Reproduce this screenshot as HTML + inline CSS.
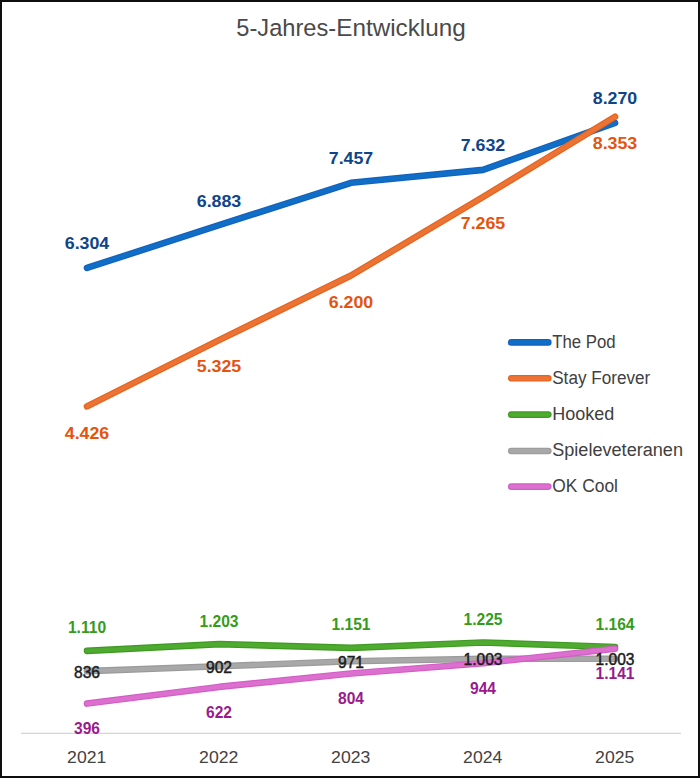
<!DOCTYPE html>
<html><head><meta charset="utf-8"><title>5-Jahres-Entwicklung</title>
<style>
html,body{margin:0;padding:0;background:#fff;}
body{width:700px;height:778px;overflow:hidden;font-family:"Liberation Sans",sans-serif;}
svg{display:block;}
text{font-family:"Liberation Sans",sans-serif;}
.a{font-weight:bold;font-size:17.1px;text-anchor:middle;}
.b{font-weight:bold;font-size:15.6px;text-anchor:middle;}
.c{font-weight:normal;font-size:15.6px;text-anchor:middle;}
.lg{font-size:17.6px;fill:#404040;}
.ax{font-size:17px;fill:#424242;text-anchor:middle;}
</style></head><body>
<svg width="700" height="778" viewBox="0 0 700 778">
<rect x="0" y="0" width="700" height="778" fill="#fff"/>
<line x1="21" y1="733.2" x2="681" y2="733.2" stroke="#C9C9C9" stroke-width="1.1"/>
<polyline points="87.0,267.9 219.0,225.2 351.0,182.8 483.0,169.9 615.0,122.9" fill="none" stroke="#1560BE" stroke-width="6.6" stroke-linecap="round" stroke-linejoin="round"/>
<polyline points="87.0,267.9 219.0,225.2 351.0,182.8 483.0,169.9 615.0,122.9" fill="none" stroke="#0F6FC6" stroke-width="4.3" stroke-linecap="round" stroke-linejoin="round"/>
<polyline points="87.0,406.4 219.0,340.1 351.0,275.5 483.0,197.0 615.0,116.8" fill="none" stroke="#E7621C" stroke-width="6.6" stroke-linecap="round" stroke-linejoin="round"/>
<polyline points="87.0,406.4 219.0,340.1 351.0,275.5 483.0,197.0 615.0,116.8" fill="none" stroke="#EB7334" stroke-width="4.3" stroke-linecap="round" stroke-linejoin="round"/>
<polyline points="87.0,650.9 219.0,644.1 351.0,647.9 483.0,642.5 615.0,647.0" fill="none" stroke="#3F9A22" stroke-width="6.6" stroke-linecap="round" stroke-linejoin="round"/>
<polyline points="87.0,650.9 219.0,644.1 351.0,647.9 483.0,642.5 615.0,647.0" fill="none" stroke="#4FAA30" stroke-width="4.3" stroke-linecap="round" stroke-linejoin="round"/>
<polyline points="87.0,671.1 219.0,666.3 351.0,661.2 483.0,658.8 615.0,658.8" fill="none" stroke="#9A9A9A" stroke-width="6.6" stroke-linecap="round" stroke-linejoin="round"/>
<polyline points="87.0,671.1 219.0,666.3 351.0,661.2 483.0,658.8 615.0,658.8" fill="none" stroke="#A8A8A8" stroke-width="4.3" stroke-linecap="round" stroke-linejoin="round"/>
<polyline points="87.0,703.6 219.0,686.9 351.0,673.5 483.0,663.2 615.0,648.7" fill="none" stroke="#D45CC6" stroke-width="6.6" stroke-linecap="round" stroke-linejoin="round"/>
<polyline points="87.0,703.6 219.0,686.9 351.0,673.5 483.0,663.2 615.0,648.7" fill="none" stroke="#DB70CF" stroke-width="4.3" stroke-linecap="round" stroke-linejoin="round"/>
<text class="a" x="87" y="249.4" fill="#0E4589" textLength="44.5" lengthAdjust="spacingAndGlyphs">6.304</text>
<text class="a" x="219" y="206.7" fill="#0E4589" textLength="44.5" lengthAdjust="spacingAndGlyphs">6.883</text>
<text class="a" x="351" y="164.3" fill="#0E4589" textLength="44.5" lengthAdjust="spacingAndGlyphs">7.457</text>
<text class="a" x="483" y="151.4" fill="#0E4589" textLength="44.5" lengthAdjust="spacingAndGlyphs">7.632</text>
<text class="a" x="615" y="104.4" fill="#0E4589" textLength="44.5" lengthAdjust="spacingAndGlyphs">8.270</text>
<text class="a" x="87" y="438.7" fill="#E5540F" textLength="44.5" lengthAdjust="spacingAndGlyphs">4.426</text>
<text class="a" x="219" y="372.4" fill="#E5540F" textLength="44.5" lengthAdjust="spacingAndGlyphs">5.325</text>
<text class="a" x="351" y="307.8" fill="#E5540F" textLength="44.5" lengthAdjust="spacingAndGlyphs">6.200</text>
<text class="a" x="483" y="229.3" fill="#E5540F" textLength="44.5" lengthAdjust="spacingAndGlyphs">7.265</text>
<text class="a" x="615" y="149.1" fill="#E5540F" textLength="44.5" lengthAdjust="spacingAndGlyphs">8.353</text>
<text class="b" x="87" y="633.4" fill="#359C1A">1.110</text>
<text class="b" x="219" y="626.6" fill="#359C1A">1.203</text>
<text class="b" x="351" y="630.4" fill="#359C1A">1.151</text>
<text class="b" x="483" y="625.0" fill="#359C1A">1.225</text>
<text class="b" x="615" y="629.5" fill="#359C1A">1.164</text>
<text class="c" x="87" y="677.5" fill="#1C1C1C" stroke="#1C1C1C" stroke-width="0.45">836</text>
<text class="c" x="219" y="672.7" fill="#1C1C1C" stroke="#1C1C1C" stroke-width="0.45">902</text>
<text class="c" x="351" y="667.6" fill="#1C1C1C" stroke="#1C1C1C" stroke-width="0.45">971</text>
<text class="c" x="483" y="665.2" fill="#1C1C1C" stroke="#1C1C1C" stroke-width="0.45">1.003</text>
<text class="c" x="615" y="665.2" fill="#1C1C1C" stroke="#1C1C1C" stroke-width="0.45">1.003</text>
<text class="b" x="87" y="733.5" fill="#981B8E">396</text>
<text class="b" x="219" y="717.9" fill="#981B8E">622</text>
<text class="b" x="351" y="703.5" fill="#981B8E">804</text>
<text class="b" x="483" y="693.7" fill="#981B8E">944</text>
<text class="b" x="615" y="678.7" fill="#981B8E">1.141</text>
<line x1="511.2" y1="342.4" x2="548.3" y2="342.4" stroke="#1560BE" stroke-width="6.6" stroke-linecap="round"/>
<line x1="511.2" y1="342.4" x2="548.3" y2="342.4" stroke="#0F6FC6" stroke-width="4.3" stroke-linecap="round"/>
<text class="lg" x="552.2" y="347.6" textLength="63.4" lengthAdjust="spacingAndGlyphs">The Pod</text>
<line x1="511.2" y1="378.3" x2="548.3" y2="378.3" stroke="#E7621C" stroke-width="6.6" stroke-linecap="round"/>
<line x1="511.2" y1="378.3" x2="548.3" y2="378.3" stroke="#EB7334" stroke-width="4.3" stroke-linecap="round"/>
<text class="lg" x="552.2" y="383.5" textLength="98.1" lengthAdjust="spacingAndGlyphs">Stay Forever</text>
<line x1="511.2" y1="414.6" x2="548.3" y2="414.6" stroke="#3F9A22" stroke-width="6.6" stroke-linecap="round"/>
<line x1="511.2" y1="414.6" x2="548.3" y2="414.6" stroke="#4FAA30" stroke-width="4.3" stroke-linecap="round"/>
<text class="lg" x="552.2" y="419.8" textLength="62.1" lengthAdjust="spacingAndGlyphs">Hooked</text>
<line x1="511.2" y1="451.0" x2="548.3" y2="451.0" stroke="#9A9A9A" stroke-width="6.6" stroke-linecap="round"/>
<line x1="511.2" y1="451.0" x2="548.3" y2="451.0" stroke="#A8A8A8" stroke-width="4.3" stroke-linecap="round"/>
<text class="lg" x="552.2" y="456.2" textLength="130.8" lengthAdjust="spacingAndGlyphs">Spieleveteranen</text>
<line x1="511.2" y1="486.6" x2="548.3" y2="486.6" stroke="#D45CC6" stroke-width="6.6" stroke-linecap="round"/>
<line x1="511.2" y1="486.6" x2="548.3" y2="486.6" stroke="#DB70CF" stroke-width="4.3" stroke-linecap="round"/>
<text class="lg" x="552.2" y="491.8" textLength="65.8" lengthAdjust="spacingAndGlyphs">OK Cool</text>
<text class="ax" x="86.7" y="763" textLength="39.2" lengthAdjust="spacingAndGlyphs">2021</text>
<text class="ax" x="218.7" y="763" textLength="39.2" lengthAdjust="spacingAndGlyphs">2022</text>
<text class="ax" x="350.7" y="763" textLength="39.2" lengthAdjust="spacingAndGlyphs">2023</text>
<text class="ax" x="482.7" y="763" textLength="39.2" lengthAdjust="spacingAndGlyphs">2024</text>
<text class="ax" x="614.7" y="763" textLength="39.2" lengthAdjust="spacingAndGlyphs">2025</text>
<text x="236.3" y="36.2" font-size="23.9" fill="#4a4a4a" textLength="99.9" lengthAdjust="spacingAndGlyphs">5-Jahres-</text>
<text x="336.2" y="36.2" font-size="23.9" fill="#4a4a4a" textLength="129.6" lengthAdjust="spacingAndGlyphs">Entwicklung</text>
<path d="M1 1H699V777H1Z" fill="none" stroke="#0e0e0e" stroke-width="2"/>
</svg></body></html>
